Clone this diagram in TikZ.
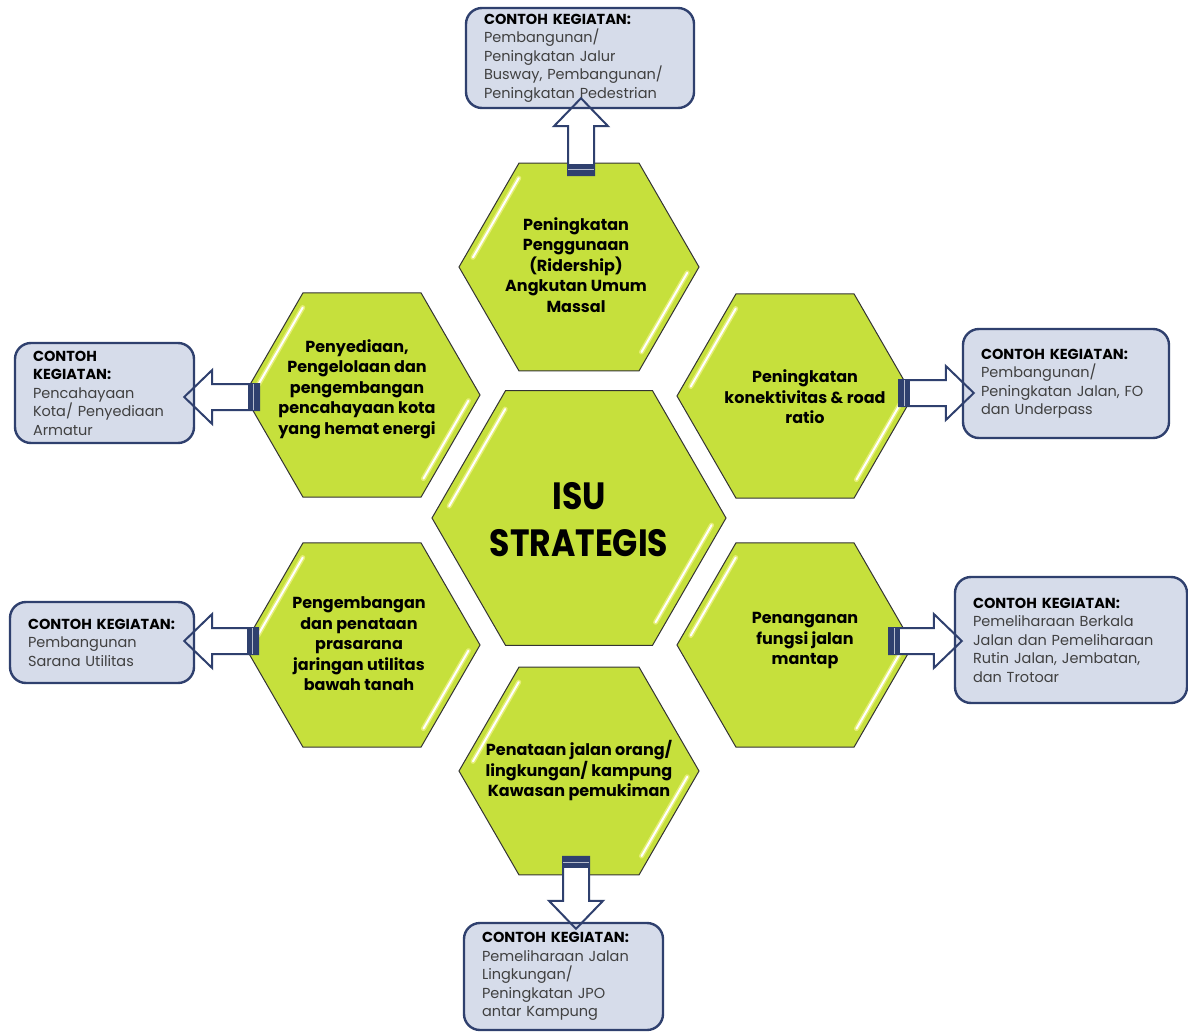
\documentclass[tikz,border=0pt]{standalone}
\usepackage{fontspec}
\usepackage{graphicx}
\setmainfont{Poppins}
\usetikzlibrary{shapes.geometric,calc}

\pgfdeclarelayer{hexlayer}
\pgfdeclarelayer{bodylayer}
\pgfsetlayers{hexlayer,bodylayer,main}

\definecolor{hexgreen}{RGB}{198,224,60}
\definecolor{boxfill}{RGB}{214,220,234}
\definecolor{navy}{RGB}{47,64,110}
\definecolor{bodygray}{RGB}{64,64,64}

\tikzset{
  hexa/.style={regular polygon, regular polygon sides=6, fill=hexgreen,
    draw=black!80, line width=1pt, inner sep=0pt, outer sep=0pt},
  hexlabel/.style={align=center, font=\fontsize{16}{20.5}\selectfont\bfseries,
    text=black, inner sep=0pt},
  infobox/.style={rectangle, rounded corners=16pt, fill=boxfill, draw=navy,
    line width=2.4pt, align=left, inner xsep=18pt, inner ysep=0pt,
    font=\fontsize{14.5}{18.5}\selectfont, text=bodygray},
  glow/.style={line width=5pt, line cap=round, draw=yellow!35!white, opacity=0.55},
  shine/.style={line width=2pt, line cap=round, draw=white},
  blockbody/.style={fill=white},
  blockedge/.style={draw=navy, line width=2pt, line join=miter},
}

% glossy streaks along the upper-left and lower-right edges of a hexagon
\newcommand\hexshine[2]{%
  \begin{scope}[shift={(#1.center)}]
    \foreach \s in {glow,shine}{
      \draw[\s] ({-0.93*#2*(1-0.05)},{0.93*0.866*#2*0.1}) --
                ({-0.93*#2*(1-0.46)},{0.93*0.866*#2*0.92});
      \draw[\s] ({0.93*#2*(1-0.03)},{-0.93*0.866*#2*0.06}) --
                ({0.93*#2*(1-0.44)},{-0.93*0.866*#2*0.88});
    }
  \end{scope}}

% outline points of a block arrow from (#1-t) to (#1-p)
\newcommand\defarrow[1]{%
  \coordinate (#1-h) at ($(#1-p)!28pt!(#1-t)$);
  \coordinate (#1-1) at ($(#1-t)!13pt!90:(#1-p)$);
  \coordinate (#1-2) at ($(#1-h)!13pt!90:(#1-p)$);
  \coordinate (#1-3) at ($(#1-h)!27pt!90:(#1-p)$);
  \coordinate (#1-4) at ($(#1-h)!27pt!-90:(#1-p)$);
  \coordinate (#1-5) at ($(#1-h)!13pt!-90:(#1-p)$);
  \coordinate (#1-6) at ($(#1-t)!13pt!-90:(#1-p)$);
  \coordinate (#1-e) at ($(#1-t)!11pt!(#1-p)$);
  \coordinate (#1-e1) at ($(#1-e)!13pt!90:(#1-p)$);
  \coordinate (#1-e2) at ($(#1-e)!13pt!-90:(#1-p)$);}
\newcommand\arrowbody[1]{%
  \fill[blockbody] (#1-1) -- (#1-2) -- (#1-3) -- (#1-p) -- (#1-4) -- (#1-5) -- (#1-6) -- cycle;}
\newcommand\arrowedge[1]{%
  \draw[blockedge] (#1-1) -- (#1-2) -- (#1-3) -- (#1-p) -- (#1-4) -- (#1-5) -- (#1-6) -- cycle;
  \fill[navy] (#1-1) -- (#1-e1) -- (#1-e2) -- (#1-6) -- cycle;
  \draw[navy!35!white, line width=0.8pt] ($(#1-1)!0.5!(#1-e1)$) -- ($(#1-6)!0.5!(#1-e2)$);}

\newcommand\kegiatan{\textbf{\color{black}CONTOH KEGIATAN:}}

\begin{document}
\begin{tikzpicture}[x=1pt,y=1pt]
\useasboundingbox (0,0) rectangle (1188,-1032);

\begin{pgfonlayer}{hexlayer}
\fill[white] (0,0) rectangle (1188,-1032);
% hexagons
\node[hexa, minimum size=294pt] (hC)  at (579,-518) {};
\node[hexa, minimum size=240pt] (hT)  at (579,-267) {};
\node[hexa, minimum size=236pt] (hUL) at (362,-395) {};
\node[hexa, minimum size=236pt] (hUR) at (795,-396) {};
\node[hexa, minimum size=236pt] (hLL) at (362,-645) {};
\node[hexa, minimum size=236pt] (hLR) at (795,-645) {};
\node[hexa, minimum size=240pt] (hB)  at (579,-771) {};
\hexshine{hC}{147}
\hexshine{hT}{120}
\hexshine{hUL}{118}
\hexshine{hUR}{118}
\hexshine{hLL}{118}
\hexshine{hLR}{118}
\hexshine{hB}{120}
\end{pgfonlayer}

% hexagon labels
\node[font=\fontsize{38}{47}\selectfont\bfseries, align=center, inner sep=0pt] (tC) at ($(hC)+(0,-2)$)
  {\scalebox{0.87}[1]{ISU}\\\scalebox{0.87}[1]{STRATEGIS}};
\node[hexlabel] (tT) at ($(hT)+(-3,2)$)
  {Peningkatan\\Penggunaan\\(Ridership)\\Angkutan Umum\\Massal};
\node[hexlabel] (tUL) at ($(hUL)+(-5,6)$)
  {Penyediaan,\\Pengelolaan dan\\pengembangan\\pencahayaan kota\\yang hemat energi};
\node[hexlabel] (tUR) at ($(hUR)+(10,-1)$)
  {Peningkatan\\konektivitas \& road\\ratio};
\node[hexlabel] (tLL) at ($(hLL)+(-3,1)$)
  {Pengembangan\\dan penataan\\prasarana\\jaringan utilitas\\bawah tanah};
\node[hexlabel] (tLR) at ($(hLR)+(10,4)$)
  {Penanganan\\fungsi jalan\\mantap};
\node[hexlabel] (tB) at ($(hB)+(0,0)$)
  {Penataan jalan orang/\\lingkungan/ kampung\\Kawasan pemukiman};

% example boxes
\node[infobox, minimum width=228pt, minimum height=100pt, text width=192pt] (bT) at (580,-58)
  {\kegiatan\\Pembangunan/\\Peningkatan Jalur\\Busway, Pembangunan/\\Peningkatan Pedestrian};
\node[infobox, minimum width=206pt, minimum height=109pt, text width=170pt] (bUR) at (1066,-383.5)
  {\kegiatan\\Pembangunan/\\Peningkatan Jalan, FO\\dan Underpass};
\node[infobox, minimum width=179pt, minimum height=100pt, text width=143pt] (bUL) at (104.5,-393)
  {\textbf{\color{black}CONTOH}\\\textbf{\color{black}KEGIATAN:}\\Pencahayaan\\Kota/ Penyediaan\\Armatur};
\node[infobox, minimum width=184pt, minimum height=81pt, text width=148pt] (bLL) at (102,-642.5)
  {\kegiatan\\Pembangunan\\Sarana Utilitas};
\node[infobox, minimum width=232pt, minimum height=126pt, text width=196pt] (bLR) at (1071,-640)
  {\kegiatan\\Pemeliharaan Berkala\\Jalan dan Pemeliharaan\\Rutin Jalan, Jembatan,\\dan Trotoar};
\node[infobox, minimum width=199pt, minimum height=107pt, text width=163pt] (bB) at (563.5,-976.5)
  {\kegiatan\\Pemeliharaan Jalan\\Lingkungan/\\Peningkatan JPO\\antar Kampung};

% arrow tails just inside the hexagons, tips just inside the boxes
\coordinate (aT-t)  at ($(hT.north)+(2,-12)$);
\coordinate (aUR-t) at ($(hUR.east)+(-14,3)$);
\coordinate (aUL-t) at ($(hUL.west)+(15,-2)$);
\coordinate (aLL-t) at ($(hLL.west)+(14,4)$);
\coordinate (aLR-t) at ($(hLR.east)+(-24,4)$);
\coordinate (aB-t)  at ($(hB.south)+(-3,18)$);
\coordinate (aT-p)  at ($(aT-t |- bT.south)+(0,11)$);
\coordinate (aUR-p) at ($(aUR-t -| bUR.west)+(12,0)$);
\coordinate (aUL-p) at ($(aUL-t -| bUL.east)+(-11,0)$);
\coordinate (aLL-p) at ($(aLL-t -| bLL.east)+(-11,0)$);
\coordinate (aLR-p) at ($(aLR-t -| bLR.west)+(8,0)$);
\coordinate (aB-p)  at ($(aB-t |- bB.north)+(0,-7)$);

% block arrows: white body beneath the boxes, outline on top
\foreach \a in {aT,aUR,aUL,aLL,aLR,aB}{\defarrow{\a}}
\begin{pgfonlayer}{bodylayer}
\foreach \a in {aT,aUR,aUL,aLL,aLR,aB}{\arrowbody{\a}}
\end{pgfonlayer}
\foreach \a in {aT,aUR,aUL,aLL,aLR,aB}{\arrowedge{\a}}
\end{tikzpicture}
\end{document}
